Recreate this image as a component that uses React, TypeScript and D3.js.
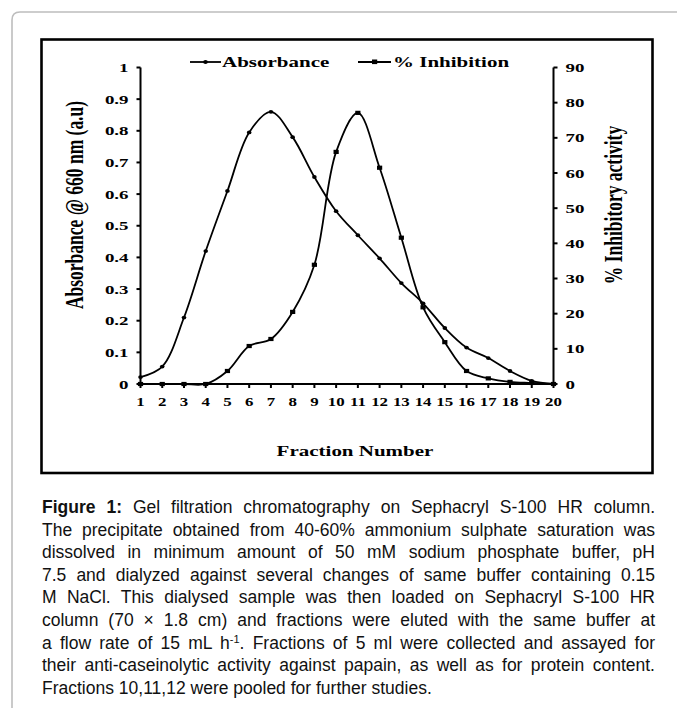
import React, { useLayoutEffect, useRef } from 'react';
import * as d3 from 'd3';

// Fraction numbers collected from the column
const fractions = [1, 2, 3, 4, 5, 6, 7, 8, 9, 10, 11, 12, 13, 14, 15, 16, 17, 18, 19, 20];
// Protein content, absorbance at 660 nm (a.u)
const absorbance = [0.022, 0.055, 0.21, 0.42, 0.61, 0.795, 0.86, 0.78, 0.654, 0.546, 0.47, 0.397, 0.319, 0.255, 0.177, 0.115, 0.082, 0.041, 0.01, 0];
// Anti-caseinolytic activity against papain (%)
const inhibition = [0, 0, 0, 0, 3.7, 10.8, 12.8, 20.5, 33.9, 66, 77.1, 61.5, 41.6, 21.8, 11.9, 3.7, 1.6, 0.6, 0.3, 0];

const absTicks = [0, 0.1, 0.2, 0.3, 0.4, 0.5, 0.6, 0.7, 0.8, 0.9, 1];
const absTickLabels = ['0', '0.1', '0.2', '0.3', '0.4', '0.5', '0.6', '0.7', '0.8', '0.9', '1'];
const inhTicks = [0, 10, 20, 30, 40, 50, 60, 70, 80, 90];

type Seg = { t: string; b?: boolean; sup?: boolean };
const captionLines: Seg[][] = [
  [{ t: 'Figure 1:', b: true }, { t: ' Gel filtration chromatography on Sephacryl S-100 HR column.' }],
  [{ t: 'The precipitate obtained from 40-60% ammonium sulphate saturation was' }],
  [{ t: 'dissolved in minimum amount of 50 mM sodium phosphate buffer, pH' }],
  [{ t: '7.5 and dialyzed against several changes of same buffer containing 0.15' }],
  [{ t: 'M NaCl. This dialysed sample was then loaded on Sephacryl S-100 HR' }],
  [{ t: 'column (70 \u00d7 1.8 cm) and fractions were eluted with the same buffer at' }],
  [{ t: 'a flow rate of 15 mL h' }, { t: '-1', sup: true }, { t: '. Fractions of 5 ml were collected and assayed for' }],
  [{ t: 'their anti-caseinolytic activity against papain, as well as for protein content.' }],
  [{ t: 'Fractions 10,11,12 were pooled for further studies.' }],
];

const W = 677;
const H = 708;
const SERIF = '"Liberation Serif", "Times New Roman", serif';
const SANS = '"Liberation Sans", Arial, sans-serif';
const SX = 1.4; // horizontal stretch of the chart lettering

const plot = { left: 140.5, right: 553.5, top: 67.5, bottom: 384 };
const captionX = 42;
const captionRight = 655;
const captionY0 = 513;
const captionStep = 22.6;

function Caption() {
  const refs = useRef<(SVGTextElement | null)[]>([]);
  useLayoutEffect(() => {
    refs.current.forEach((el, i) => {
      if (!el || i === captionLines.length - 1) return;
      el.setAttribute('word-spacing', '0');
      const natural = el.getComputedTextLength();
      const spaces = (el.textContent || '').split(' ').length - 1;
      if (spaces > 0) {
        const ws = (captionRight - captionX - natural) / spaces;
        el.setAttribute('word-spacing', String(ws));
      }
    });
  }, []);
  return (
    <g fontFamily={SANS} fontSize={17.5} fill="#111">
      {captionLines.map((line, i) => (
        <text
          key={i}
          ref={(el) => { refs.current[i] = el; }}
          x={captionX}
          y={captionY0 + i * captionStep}
        >
          {line.map((s, j) =>
            s.sup ? (
              <tspan key={j} fontSize={11} baselineShift="super">{s.t}</tspan>
            ) : (
              <tspan key={j} fontWeight={s.b ? 'bold' : 'normal'}>{s.t}</tspan>
            )
          )}
        </text>
      ))}
    </g>
  );
}

export default function App() {
  const x = d3.scaleLinear().domain([1, 20]).range([plot.left, plot.right]);
  const yAbs = d3.scaleLinear().domain([0, 1]).range([plot.bottom, plot.top]);
  const yInh = d3.scaleLinear().domain([0, 90]).range([plot.bottom, plot.top]);

  const absLine = d3
    .line<number>()
    .x((_, i) => x(fractions[i]))
    .y((d) => yAbs(d))
    .curve(d3.curveCatmullRom.alpha(0.5));
  const inhLine = d3
    .line<number>()
    .x((_, i) => x(fractions[i]))
    .y((d) => yInh(d))
    .curve(d3.curveCatmullRom.alpha(0.5));

  const stretched = (tx: number, ty: number, rot = 0, sx = SX) =>
    `translate(${tx},${ty}) scale(${sx},1)${rot ? ` rotate(${rot})` : ''}`;

  const legendY = 62;

  return (
    <svg
      width={W}
      height={H}
      viewBox={`0 0 ${W} ${H}`}
      style={{ position: 'absolute', left: 0, top: 0, background: '#fff' }}
    >
      {/* page frame */}
      <path d={`M12,${H} L12,20 Q12,12 20,12 L${W},12`} fill="none" stroke="#bdbdbd" strokeWidth={1.6} />
      {/* figure box */}
      <rect x={41.5} y={39.5} width={611} height={433.5} fill="none" stroke="#000" strokeWidth={2.6} />

      {/* curves */}
      <path d={absLine(absorbance) || ''} fill="none" stroke="#000" strokeWidth={1.8} />
      <path d={inhLine(inhibition) || ''} fill="none" stroke="#000" strokeWidth={1.8} />
      {absorbance.map((d, i) => (
        <ellipse key={`a${i}`} cx={x(fractions[i])} cy={yAbs(d)} rx={2.3} ry={1.9} fill="#000" />
      ))}
      {inhibition.map((d, i) => (
        <rect key={`s${i}`} x={x(fractions[i]) - 2.6} y={yInh(d) - 2.1} width={5.2} height={4.2} fill="#000" />
      ))}

      {/* axes */}
      <g stroke="#000" strokeWidth={2}>
        <line x1={plot.left} x2={plot.left} y1={plot.top} y2={plot.bottom + 1} />
        <line x1={plot.right} x2={plot.right} y1={plot.top} y2={plot.bottom + 1} />
        <line x1={plot.left} x2={plot.right} y1={plot.bottom} y2={plot.bottom} />
        {absTicks.map((t) => (
          <line key={`lt${t}`} x1={plot.left - 4} x2={plot.left} y1={yAbs(t)} y2={yAbs(t)} />
        ))}
        {inhTicks.map((t) => (
          <line key={`rt${t}`} x1={plot.right} x2={plot.right + 4} y1={yInh(t)} y2={yInh(t)} />
        ))}
        {fractions.map((f) => (
          <line key={`xt${f}`} x1={x(f)} x2={x(f)} y1={plot.bottom} y2={plot.bottom + 4} />
        ))}
      </g>

      <g fontFamily={SERIF} fontWeight="bold" fill="#000" fontSize={13.5}>
        {absTicks.map((t, i) => (
          <text key={`ll${t}`} transform={stretched(plot.left - 12, yAbs(t) + 4.5)} textAnchor="end">
            {absTickLabels[i]}
          </text>
        ))}
        {inhTicks.map((t) => (
          <text key={`rl${t}`} transform={stretched(plot.right + 12, yInh(t) + 4.5)} textAnchor="start">
            {t}
          </text>
        ))}
        {fractions.map((f) => (
          <text key={`xl${f}`} fontSize={13} transform={stretched(x(f), plot.bottom + 21.5, 0, 1.3)} textAnchor="middle">
            {f}
          </text>
        ))}
      </g>

      {/* axis titles */}
      <g fontFamily={SERIF} fontWeight="bold" fill="#000">
        <text fontSize={17.5} textAnchor="middle" transform={stretched(83, 205, -90)}>
          Absorbance @ 660 nm (a.u)
        </text>
        <text fontSize={17.5} textAnchor="middle" transform={stretched(622, 205, -90)}>
          % Inhibitory activity
        </text>
        <text fontSize={15} textAnchor="middle" transform={stretched(355, 456)}>
          Fraction Number
        </text>
      </g>

      {/* legend */}
      <g>
        <line x1={190} x2={221} y1={legendY} y2={legendY} stroke="#000" strokeWidth={1.8} />
        <ellipse cx={205.5} cy={legendY} rx={2.3} ry={1.9} fill="#000" />
        <line x1={358} x2={391} y1={legendY} y2={legendY} stroke="#000" strokeWidth={1.8} />
        <rect x={372} y={legendY - 2.5} width={5.2} height={4.6} fill="#000" />
        <g fontFamily={SERIF} fontWeight="bold" fontSize={15} fill="#000">
          <text transform={stretched(222, legendY + 5)}>Absorbance</text>
          <text transform={stretched(393, legendY + 5)}>% Inhibition</text>
        </g>
      </g>

      <Caption />
    </svg>
  );
}
